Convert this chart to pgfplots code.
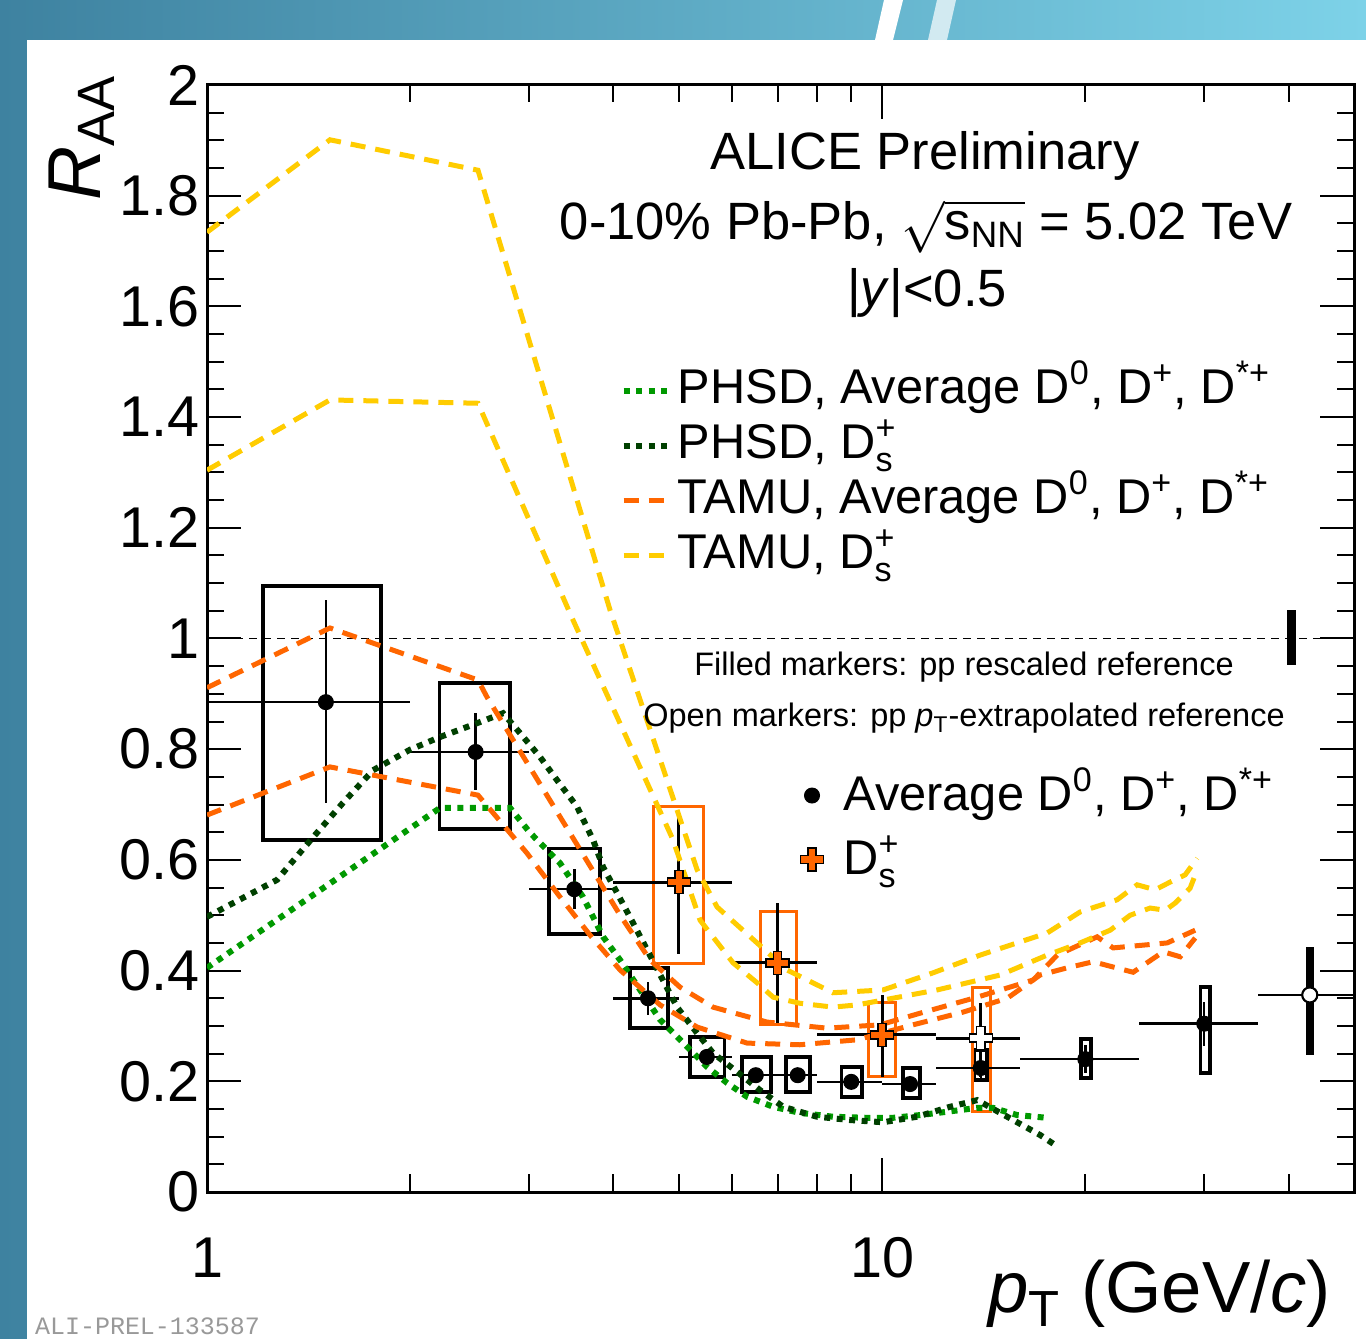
\documentclass[border=0pt]{standalone}
\usepackage{fontspec}
\setmainfont{Liberation Sans}
\setmonofont{Liberation Mono}
\usepackage{amsmath}
\usepackage{pgfplots}
\pgfplotsset{compat=1.18}
\definecolor{phsdg}{RGB}{0,153,0}
\definecolor{phsddg}{RGB}{0,64,0}
\definecolor{tamuo}{RGB}{255,102,0}
\definecolor{tamuy}{RGB}{255,204,0}
\definecolor{bgl}{RGB}{62,130,160}
\definecolor{bgr}{RGB}{125,210,232}
\newcommand{\su}[1]{$^{\text{#1}}$}
\newcommand{\sps}[2]{\rlap{$^{\text{#1}}$}$_{\text{\raisebox{-0.15em}{#2}}}$}
\pgfdeclareplotmark{fcross}{%
  \pgfpathmoveto{\pgfpoint{-0.35\pgfplotmarksize}{\pgfplotmarksize}}%
  \pgfpathlineto{\pgfpoint{0.35\pgfplotmarksize}{\pgfplotmarksize}}%
  \pgfpathlineto{\pgfpoint{0.35\pgfplotmarksize}{0.35\pgfplotmarksize}}%
  \pgfpathlineto{\pgfpoint{\pgfplotmarksize}{0.35\pgfplotmarksize}}%
  \pgfpathlineto{\pgfpoint{\pgfplotmarksize}{-0.35\pgfplotmarksize}}%
  \pgfpathlineto{\pgfpoint{0.35\pgfplotmarksize}{-0.35\pgfplotmarksize}}%
  \pgfpathlineto{\pgfpoint{0.35\pgfplotmarksize}{-\pgfplotmarksize}}%
  \pgfpathlineto{\pgfpoint{-0.35\pgfplotmarksize}{-\pgfplotmarksize}}%
  \pgfpathlineto{\pgfpoint{-0.35\pgfplotmarksize}{-0.35\pgfplotmarksize}}%
  \pgfpathlineto{\pgfpoint{-\pgfplotmarksize}{-0.35\pgfplotmarksize}}%
  \pgfpathlineto{\pgfpoint{-\pgfplotmarksize}{0.35\pgfplotmarksize}}%
  \pgfpathlineto{\pgfpoint{-0.35\pgfplotmarksize}{0.35\pgfplotmarksize}}%
  \pgfpathclose
  \pgfusepathqfillstroke}
\tikzset{
  dotl/.style={line width=2.4pt, dash pattern=on 2.4pt off 2.6pt},
  dashl/.style={line width=2pt, dash pattern=on 6pt off 4pt},
}
\begin{document}
\begin{tikzpicture}
\path[use as bounding box] (0pt,0pt) rectangle (546.4pt,535.6pt);
\clip (0pt,0pt) rectangle (546.4pt,535.6pt);
\shade[left color=bgl, right color=bgr] (0pt,0pt) rectangle (546.4pt,535.6pt);
\fill[white] (10.8pt,0pt) rectangle (546.4pt,519.6pt);
\fill[white] (350pt,519.6pt) -- (357.2pt,519.6pt) -- (361.2pt,535.6pt) -- (353.6pt,535.6pt) -- cycle;
\fill[white,opacity=0.7] (371.2pt,519.6pt) -- (378.8pt,519.6pt) -- (382.4pt,535.6pt) -- (374.8pt,535.6pt) -- cycle;

\begin{axis}[
  at={(82.8pt,58.8pt)}, anchor=south west,
  scale only axis, width=458.8pt, height=442.8pt,
  xmode=log, xmin=1, xmax=50, ymin=0, ymax=2,
  xtick={1,10}, xticklabels={1,10},
  minor xtick={2,3,4,5,6,7,8,9,20,30,40},
  ytick={0,0.2,0.4,0.6,0.8,1,1.2,1.4,1.6,1.8,2},
  yticklabels={0,0.2,0.4,0.6,0.8,1,1.2,1.4,1.6,1.8,2},
  minor y tick num=3,
  tick align=inside,
  major tick length=13.6pt, minor tick length=7pt,
  every tick/.style={black, line width=0.8pt},
  axis line style={line width=1.2pt},
  ticklabel style={font=\fontsize{23}{27}\selectfont},
  xticklabel style={inner sep=0pt, yshift=-18pt},
  yticklabel style={inner sep=0pt, xshift=-3pt},
  legend style={at={(0.3601,0.7493)}, anchor=north west, draw=none, fill=none,
    font=\fontsize{19.5}{22}\selectfont, inner sep=0pt, row sep=0pt, column sep=2.5pt,
    nodes={inner sep=0pt, text height=16.2pt, text depth=5.8pt}},
  legend cell align=left,
  legend image code/.code={\draw[#1] (0pt,0pt) -- (18pt,0pt);},
]
% systematic boxes, average D
\addplot[forget plot, black, line width=1.4pt, line cap=rect, mark=none, unbounded coords=jump] table {
x y
1.21 0.636
1.81 0.636
1.81 1.095
1.21 1.095
1.21 0.636
nan nan
2.21 0.656
2.81 0.656
2.81 0.920
2.21 0.920
2.21 0.656
nan nan
3.21 0.466
3.82 0.466
3.82 0.621
3.21 0.621
3.21 0.466
nan nan
4.23 0.296
4.82 0.296
4.82 0.405
4.23 0.405
4.23 0.296
nan nan
5.19 0.208
5.84 0.208
5.84 0.280
5.19 0.280
5.19 0.208
nan nan
6.20 0.181
6.85 0.181
6.85 0.244
6.20 0.244
6.20 0.181
nan nan
7.21 0.181
7.82 0.181
7.82 0.244
7.21 0.244
7.21 0.181
nan nan
8.70 0.172
9.34 0.172
9.34 0.226
8.70 0.226
8.70 0.172
nan nan
10.74 0.170
11.38 0.170
11.38 0.224
10.74 0.224
10.74 0.170
nan nan
13.7 0.202
14.3 0.202
14.3 0.257
13.7 0.257
13.7 0.202
nan nan
19.7 0.206
20.4 0.206
20.4 0.276
19.7 0.276
19.7 0.206
nan nan
29.6 0.215
30.6 0.215
30.6 0.370
29.6 0.370
29.6 0.215
};
% systematic boxes, Ds
\addplot[forget plot, tamuo, line width=1.2pt, line cap=rect, mark=none, unbounded coords=jump] table {
x y
4.59 0.412
5.43 0.412
5.43 0.696
4.59 0.696
4.59 0.412
nan nan
6.60 0.302
7.46 0.302
7.46 0.506
6.60 0.506
6.60 0.302
nan nan
9.56 0.208
10.45 0.208
10.45 0.343
9.56 0.343
9.56 0.208
nan nan
13.6 0.145
14.45 0.145
14.45 0.370
13.6 0.370
13.6 0.145
};
% normalisation uncertainty
\addplot[forget plot, fill=black, draw=none] coordinates {(39.8,0.952) (41.05,0.952) (41.05,1.052) (39.8,1.052)} -- cycle;
% unity line
\addplot[forget plot, black, line width=0.6pt, dash pattern=on 3.2pt off 2.4pt, mark=none] coordinates {(1,1) (50,1)};
% average D, filled
\addplot[forget plot, only marks, mark=*, mark size=3pt, black,
  error bars/.cd, x dir=both, x explicit, y dir=both, y explicit, error mark=none,
  error bar style={line width=1pt, black}]
  table[x=x, y=y, x error plus=xp, x error minus=xm, y error plus=yp, y error minus=ym] {
x y xm xp ym yp
1.5 0.885 0.5 0.5 0.182 0.185
2.5 0.795 0.5 0.5 0.069 0.070
3.5 0.547 0.5 0.5 0.036 0.037
4.5 0.350 0.5 0.5 0.030 0.030
5.5 0.244 0.5 0.5 0.015 0.015
6.5 0.211 0.5 0.5 0.012 0.012
7.5 0.211 0.5 0.5 0.012 0.012
9 0.199 1 1 0.012 0.012
11 0.195 1 1 0.012 0.012
14 0.224 2 2 0.025 0.025
20 0.240 4 4 0.025 0.025
30 0.304 6 6 0.040 0.040
};
% average D, open (pT-extrapolated reference)
\addplot[forget plot, only marks, mark=*, mark size=3pt, black, mark options={fill=white, line width=0.8pt},
  error bars/.cd, x dir=both, x explicit, y dir=both, y explicit, error mark=none,
  error bar style={line width=1pt, black}]
  table[x=x, y=y, x error plus=xp, x error minus=xm] {
x y xm xp
43 0.356 7 7
};
\addplot[forget plot, black, line width=3pt, mark=none] coordinates {(43,0.248) (43,0.443)};
\addplot[forget plot, only marks, mark=*, mark size=3pt, black, mark options={fill=white, line width=0.8pt}] coordinates {(43,0.356)};
% Ds filled
\addplot[forget plot, only marks, mark=fcross, mark size=4.6pt, black, mark options={fill=tamuo, draw=black, line width=0.6pt},
  error bars/.cd, x dir=both, x explicit, y dir=both, y explicit, error mark=none,
  error bar style={line width=1.2pt, black}]
  table[x=x, y=y, x error plus=xp, x error minus=xm, y error plus=yp, y error minus=ym] {
x y xm xp ym yp
5 0.560 1 1 0.130 0.130
7 0.414 1 1 0.109 0.108
10 0.284 2 2 0.076 0.072
};
% Ds open
\addplot[forget plot, only marks, mark=fcross, mark size=4.6pt, black, mark options={fill=white, draw=black, line width=0.6pt},
  error bars/.cd, x dir=both, x explicit, y dir=both, y explicit, error mark=none,
  error bar style={line width=1.2pt, black}]
  table[x=x, y=y, x error plus=xp, x error minus=xm, y error plus=yp, y error minus=ym] {
x y xm xp ym yp
14 0.278 2 2 0.070 0.063
};
% ---- model curves ----
\addplot[phsdg, dotl, mark=none] table {
x y
1.0 0.405
2.214 0.694
2.811 0.694
3.010 0.649
3.334 0.594
3.606 0.533
3.862 0.461
4.092 0.419
4.690 0.311
5.195 0.257
5.505 0.226
5.893 0.197
6.310 0.172
6.896 0.154
7.555 0.143
8.456 0.136
9.502 0.134
10.38 0.134
11.38 0.139
12.48 0.145
13.83 0.152
14.60 0.152
15.85 0.139
17.56 0.134
};
\addlegendentry{PHSD, Average D\su{0}, D\su{+}, D\su{*+}}
\addplot[phsddg, dotl, mark=none] table {
x y
1.0 0.497
1.270 0.564
1.436 0.641
1.590 0.703
1.762 0.762
1.998 0.799
2.214 0.822
2.512 0.847
2.745 0.865
2.909 0.829
3.114 0.786
3.300 0.744
3.533 0.696
3.732 0.636
3.862 0.587
4.051 0.540
4.277 0.486
4.969 0.334
5.321 0.287
5.618 0.251
6.098 0.217
6.596 0.184
7.135 0.154
8.007 0.136
8.965 0.130
10.03 0.126
11.27 0.136
12.61 0.154
13.83 0.166
14.96 0.143
15.85 0.126
17.14 0.103
18.04 0.085
};
\addlegendentry{PHSD, D\sps{+}{s}}
\addplot[tamuo, dashl, mark=none] table {
x y
1.0 0.911
1.521 1.019
2.520 0.925
2.599 0.894
4.092 0.500
4.533 0.419
5.020 0.370
5.618 0.334
6.755 0.307
8.285 0.296
9.932 0.302
11.38 0.323
13.83 0.352
16.74 0.383
18.17 0.428
20.82 0.461
21.99 0.441
26.44 0.450
29.09 0.473
};
\addlegendentry{TAMU, Average D\su{0}, D\su{+}, D\su{*+}}
\addplot[tamuy, dashl, mark=none] table {
x y
1.0 1.734
1.521 1.901
2.520 1.846
3.955 1.051
5.321 0.582
5.695 0.515
6.528 0.450
7.234 0.401
8.456 0.360
10.03 0.365
11.90 0.396
13.97 0.428
17.56 0.468
19.65 0.506
22.29 0.528
23.86 0.555
25.38 0.546
26.71 0.560
28.11 0.573
29.29 0.603
};
\addlegendentry{TAMU, D\sps{+}{s}}
\addplot[forget plot, tamuo, dashl, mark=none] table {
x y
1.0 0.681
1.521 0.768
2.520 0.717
2.653 0.685
2.979 0.612
3.334 0.533
3.694 0.464
4.092 0.401
4.690 0.338
5.321 0.298
6.310 0.269
7.555 0.266
9.183 0.275
11.11 0.302
13.18 0.325
15.32 0.350
17.14 0.392
18.80 0.405
20.54 0.416
23.54 0.397
26.08 0.434
27.64 0.425
29.09 0.459
};
\addplot[forget plot, tamuy, dashl, mark=none] table {
x y
1.0 1.304
1.521 1.431
2.520 1.425
3.474 1.037
4.902 0.636
5.375 0.491
6.015 0.414
6.528 0.378
6.896 0.352
7.555 0.341
8.456 0.334
9.183 0.338
12.06 0.365
14.96 0.392
17.56 0.428
19.65 0.450
21.77 0.473
23.30 0.500
24.95 0.513
26.27 0.509
27.17 0.522
28.59 0.549
29.29 0.582
};
\end{axis}

\begin{axis}[
  at={(82.8pt,58.8pt)}, anchor=south west,
  scale only axis, width=458.8pt, height=442.8pt,
  hide axis, xmin=0, xmax=1, ymin=0, ymax=1,
  legend style={at={(0.5170,0.3875)}, anchor=north west, draw=none, fill=none,
    font=\fontsize{19.5}{22}\selectfont, inner sep=0pt, row sep=0pt, column sep=8pt,
    nodes={inner sep=0pt, text height=18.8pt, text depth=6.8pt}},
  legend cell align=left,
]
\addlegendimage{only marks, mark=*, mark size=3pt, black}
\addlegendentry{Average D\su{0}, D\su{+}, D\su{*+}}
\addlegendimage{only marks, mark=fcross, mark size=4.6pt, black, mark options={fill=tamuo, draw=black, line width=0.6pt}}
\addlegendentry{D\sps{+}{s}}
\end{axis}

\begin{scope}[every node/.style={inner sep=0pt, outer sep=0pt}]
\node[anchor=base, font=\fontsize{21}{25}\selectfont] at (370pt,467.6pt) {ALICE Preliminary};
\node[anchor=base, font=\fontsize{21}{25}\selectfont] at (370.4pt,439.6pt) {0-10\% Pb-Pb, $\sqrt{\text{s}_{\text{NN}}}$ = 5.02 TeV};
\node[anchor=base, font=\fontsize{21}{25}\selectfont] at (370.8pt,412.8pt) {|\textit{y}|<0.5};
\node[anchor=base, font=\fontsize{13}{15}\selectfont] at (385.6pt,265.2pt) {Filled markers: pp rescaled reference};
\node[anchor=base, font=\fontsize{13}{15}\selectfont] at (385.6pt,244.8pt) {Open markers: pp \textit{p}$_{\text{T}}$-extrapolated reference};
\node[anchor=base east, font=\fontsize{29}{33}\selectfont] at (532.4pt,10.4pt) {\textit{p}$_{\text{T}}$ (GeV/\textit{c})};
\node[anchor=base east, rotate=90, font=\fontsize{30}{34}\selectfont] at (40pt,505.6pt) {\textit{R}$_{\text{AA}}$};
\node[anchor=base west, font=\ttfamily\fontsize{10}{12}\selectfont, text=black!40] at (14pt,1.6pt) {ALI-PREL-133587};
\end{scope}
\end{tikzpicture}
\end{document}
